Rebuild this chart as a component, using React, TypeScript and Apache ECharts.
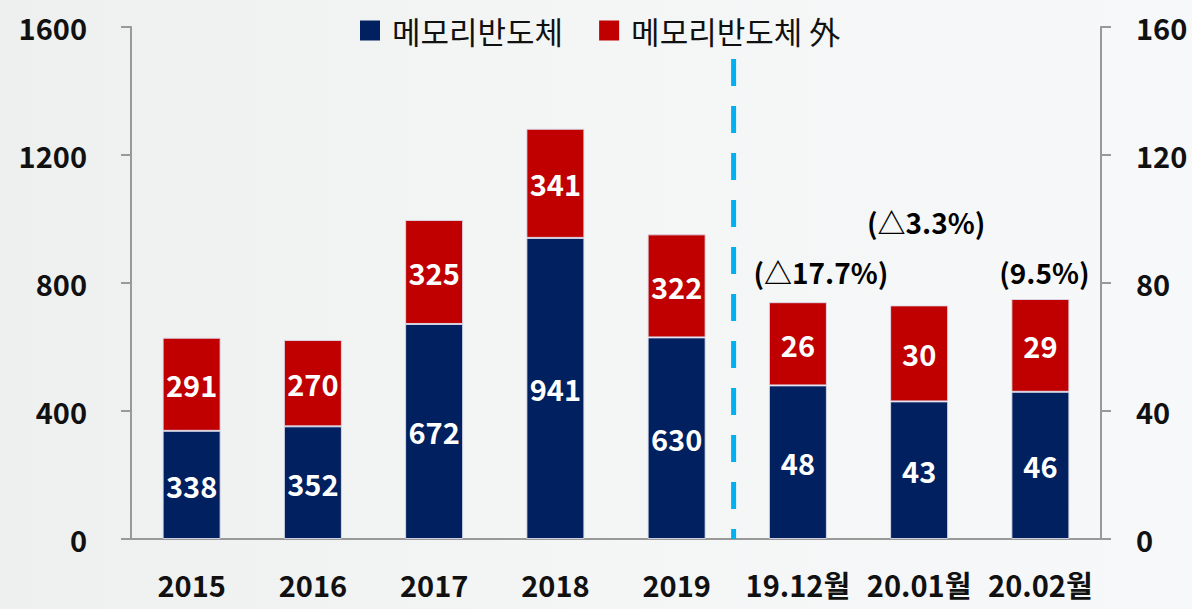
import React, { useEffect, useRef } from "react";
import * as echarts from "echarts";

const categories = ["2015", "2016", "2017", "2018", "2019", "19.12월", "20.01월", "20.02월"];
const memoryYearly = [338, 352, 672, 941, 630, null, null, null];
const otherYearly = [291, 270, 325, 341, 322, null, null, null];
const memoryMonthly = [null, null, null, null, null, 48, 43, 46];
const otherMonthly = [null, null, null, null, null, 26, 30, 29];
const growthLabels = [null, null, null, null, null, "(△17.7%)", "(△3.3%)", "(9.5%)"];
const leftTicks = [0, 400, 800, 1200, 1600];
const rightTicks = [0, 40, 80, 120, 160];
const seriesNames = ["메모리반도체", "메모리반도체 外"];
// divider between yearly and monthly data (between category 4 and 5), drawn up to right-axis value
const dividerPosition = 4.47;
const dividerTop = 150;

const FONT = "'Noto Sans CJK KR', 'Noto Sans', sans-serif";
const NAVY = "#002060";
const RED = "#C00000";
const labelOffsets: Record<number, [number, number]> = { 5: [23, -15], 6: [7, -68], 7: [4, -12] };

export default function App() {
  const ref = useRef<HTMLDivElement>(null);
  useEffect(() => {
    document.body.style.margin = "0";
    const chart = echarts.init(ref.current!, null, { renderer: "svg" });
    const inside = {
      show: true,
      position: "inside" as const,
      color: "#ffffff",
      fontSize: 29,
      fontWeight: "bold" as const,
      fontFamily: FONT,
    };
    const barStyle = (c: string) => ({ color: c, borderColor: "rgba(220,220,235,0.9)", borderWidth: 1 });
    const totals = memoryMonthly.map((m, i) =>
      m == null || otherMonthly[i] == null ? null : (m as number) + (otherMonthly[i] as number)
    );
    const axisLabelStyle = { fontSize: 29, fontWeight: "bold" as const, fontFamily: FONT, color: "#111" };
    chart.setOption({
      animation: false,
      backgroundColor: {
        type: "linear", x: 0, y: 0, x2: 1, y2: 0,
        colorStops: [
          { offset: 0, color: "#eeefef" },
          { offset: 0.5, color: "#f4f5f5" },
          { offset: 1, color: "#f7f8f9" },
        ],
      },
      grid: { left: 131, right: 91, top: 27, bottom: 70 },
      legend: {
        top: 10,
        left: 355,
        itemWidth: 20,
        itemHeight: 20,
        itemGap: 36,
        icon: "rect",
        data: [
          { name: seriesNames[0], itemStyle: { color: NAVY, borderWidth: 0 } },
          { name: seriesNames[1], itemStyle: { color: RED, borderWidth: 0 } },
        ],
        textStyle: { fontSize: 31, fontFamily: FONT, color: "#111", padding: [0, 0, 0, 7] },
      },
      xAxis: [
        {
          type: "category",
          data: categories,
          axisTick: { show: false },
          axisLine: { lineStyle: { color: "#999", width: 2 } },
          axisLabel: { ...axisLabelStyle, margin: 30, interval: 0 },
        },
        {
          type: "value",
          show: false,
          min: -0.5,
          max: categories.length - 0.5,
        },
      ],
      yAxis: [
        {
          type: "value",
          min: leftTicks[0],
          max: leftTicks[leftTicks.length - 1],
          interval: leftTicks[1] - leftTicks[0],
          splitLine: { show: false },
          axisLine: { show: true, onZero: false, lineStyle: { color: "#999", width: 2 } },
          axisTick: { show: true, length: 10, lineStyle: { color: "#999", width: 2 } },
          axisLabel: { ...axisLabelStyle, margin: 44, formatter: (v: number) => String(v) },
        },
        {
          type: "value",
          min: rightTicks[0],
          max: rightTicks[rightTicks.length - 1],
          interval: rightTicks[1] - rightTicks[0],
          splitLine: { show: false },
          axisLine: { show: true, onZero: false, lineStyle: { color: "#999", width: 2 } },
          axisTick: { show: true, length: 10, lineStyle: { color: "#999", width: 2 } },
          axisLabel: { ...axisLabelStyle, margin: 35, formatter: (v: number) => String(v) },
        },
      ],
      series: [
        {
          name: seriesNames[0], type: "bar", stack: "yearly", yAxisIndex: 0,
          data: memoryYearly, barWidth: 58, itemStyle: barStyle(NAVY), label: inside,
        },
        {
          name: seriesNames[1], type: "bar", stack: "yearly", yAxisIndex: 0,
          data: otherYearly, barWidth: 58, itemStyle: barStyle(RED), label: inside,
        },
        {
          name: seriesNames[0], type: "bar", stack: "monthly", yAxisIndex: 1, barGap: "-100%",
          data: memoryMonthly, barWidth: 58, itemStyle: barStyle(NAVY), label: inside,
        },
        {
          name: seriesNames[1], type: "bar", stack: "monthly", yAxisIndex: 1, barGap: "-100%",
          data: otherMonthly, barWidth: 58, itemStyle: barStyle(RED), label: inside,
        },
        {
          type: "line",
          xAxisIndex: 1,
          yAxisIndex: 1,
          silent: true,
          symbol: "none",
          lineStyle: { color: "#00B0F0", width: 5, type: [27, 20] },
          data: [[dividerPosition, dividerTop], [dividerPosition, 0]],
          z: 1,
        },
        {
          type: "scatter", yAxisIndex: 1, symbolSize: 1, silent: true,
          itemStyle: { color: "rgba(0,0,0,0)" },
          data: totals.map((t, i) =>
            t == null
              ? null
              : {
                  value: t,
                  label: {
                    show: true,
                    position: "top",
                    distance: 0,
                    offset: labelOffsets[i],
                    formatter: growthLabels[i] as string,
                    fontSize: 28,
                    fontWeight: "bold",
                    fontFamily: FONT,
                    color: "#000",
                    opacity: 1,
                    lineHeight: 30,
                  },
                }
          ),
        },
      ],
    });
    return () => chart.dispose();
  }, []);
  return <div ref={ref} style={{ width: 1192, height: 609 }} />;
}
